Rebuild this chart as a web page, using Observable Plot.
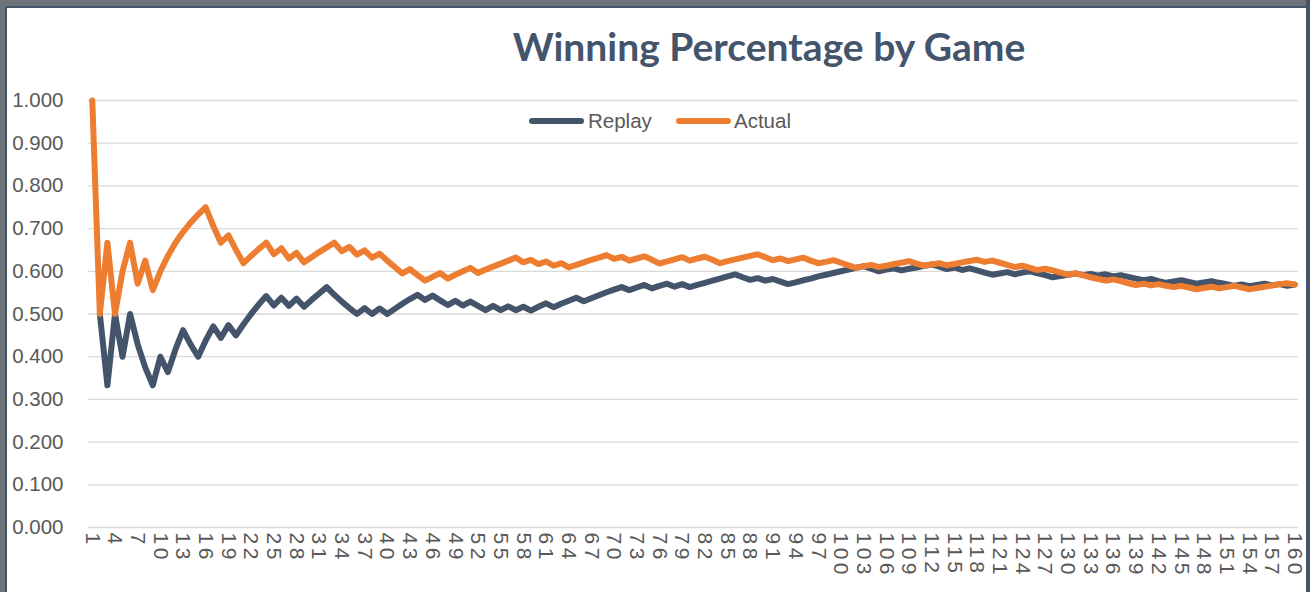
<!DOCTYPE html>
<html>
<head>
<meta charset="utf-8">
<script src="https://cdn.jsdelivr.net/npm/d3@7"></script>
<script src="https://cdn.jsdelivr.net/npm/@observablehq/plot@0.6"></script>
<style>
  html, body { margin: 0; padding: 0; background: #fff; }
  #wrap { position: relative; width: 1310px; height: 592px; overflow: hidden; background: #fff; }
  #wrap svg { position: absolute; left: 0; top: 0; }
  #wrap svg g[aria-label="x-axis tick label"] text { letter-spacing: 3.5px; }
  .bTop { position: absolute; left: 0; top: 0; width: 1310px; height: 6px; background: #6e7379; }
  .bTop2 { position: absolute; left: 0; top: 6px; width: 1310px; height: 2px; background: #44546A; }
  .bLeft { position: absolute; left: 0; top: 0; width: 5px; height: 592px; background: #6e7379; }
  .bLeft2 { position: absolute; left: 5px; top: 6px; width: 2px; height: 586px; background: #44546A; }
  .bRight { position: absolute; left: 1306px; top: 0; width: 4px; height: 592px; background: #44546A; }
  #title { position: absolute; top: 23px; left: 769px; transform: translateX(-50%);
           font-family: Lato, "Open Sans", sans-serif; font-weight: 700; font-size: 39px;
           color: #44546A; white-space: nowrap; }
  .leg { position: absolute; top: 109px; font-family: "Liberation Sans", Arial, sans-serif;
         font-size: 20.5px; color: #595959; white-space: nowrap; }
  .sw { position: absolute; height: 6px; border-radius: 3px; top: 118px; }
</style>
</head>
<body>
<div id="wrap">
  <div id="title">Winning Percentage by Game</div>
</div>
<script>
const seriesNames = ["Replay", "Actual"];
const seriesColors = ["#44546A", "#ED7D31"];

const games = d3.range(1, 161);

const xTickLabels = [1,4,7,10,13,16,19,22,25,28,31,34,37,40,43,46,49,52,55,58,61,64,67,70,73,76,79,82,85,88,91,94,97,100,103,106,109,112,115,118,121,124,127,130,133,136,139,142,145,148,151,154,157,160];

const yTickLabels = [0, 0.1, 0.2, 0.3, 0.4, 0.5, 0.6, 0.7, 0.8, 0.9, 1.0];

const replay = [
  null, .500, .333, .500, .400, .500, .429, .375, .333, .400,
  .364, .417, .462, .429, .400, .438, .471, .444, .474, .450,
  .476, .500, .522, .542, .520, .538, .519, .536, .517, .533,
  .548, .563, .545, .529, .514, .500, .514, .500, .513, .500,
  .512, .524, .535, .545, .533, .543, .532, .521, .531, .520,
  .529, .519, .509, .519, .509, .518, .509, .517, .508, .517,
  .525, .516, .524, .531, .538, .530, .537, .544, .551, .557,
  .563, .556, .562, .568, .560, .566, .571, .564, .570, .563,
  .568, .573, .578, .583, .588, .593, .586, .580, .584, .578,
  .582, .576, .570, .574, .579, .583, .588, .592, .596, .600,
  .604, .608, .612, .606, .600, .604, .607, .602, .606, .609,
  .613, .616, .611, .605, .609, .603, .607, .602, .597, .592,
  .595, .598, .593, .597, .600, .595, .591, .586, .589, .592,
  .595, .591, .594, .590, .593, .588, .591, .587, .583, .579,
  .582, .577, .573, .576, .579, .575, .571, .574, .577, .573,
  .570, .566, .569, .565, .568, .571, .567, .570, .566, .569
];

const actual = [
  1.000, .500, .667, .500, .600, .667, .571, .625, .556, .600,
  .636, .667, .692, .714, .733, .750, .706, .667, .684, .650,
  .619, .636, .652, .667, .640, .654, .630, .643, .621, .633,
  .645, .656, .667, .647, .657, .639, .649, .632, .641, .625,
  .610, .595, .605, .591, .578, .587, .596, .583, .592, .600,
  .608, .596, .604, .611, .618, .625, .632, .621, .627, .617,
  .623, .613, .619, .609, .615, .621, .627, .632, .638, .629,
  .634, .625, .630, .635, .627, .618, .623, .628, .633, .625,
  .630, .634, .627, .619, .624, .628, .632, .636, .640, .633,
  .626, .630, .624, .628, .632, .625, .619, .622, .626, .620,
  .614, .608, .612, .615, .610, .613, .617, .620, .624, .618,
  .613, .616, .619, .614, .617, .621, .624, .627, .622, .625,
  .620, .615, .610, .613, .608, .603, .606, .602, .597, .592,
  .595, .591, .586, .582, .578, .581, .577, .572, .568, .571,
  .567, .570, .566, .563, .566, .562, .558, .561, .564, .560,
  .563, .566, .562, .558, .561, .564, .567, .570, .572, .569
];

const replayData = games.map((g, i) => ({game: g, value: replay[i]}));
const actualData = games.map((g, i) => ({game: g, value: actual[i]}));

const chart = Plot.plot({
  width: 1310,
  height: 592,
  marginTop: 100,
  marginBottom: 65,
  marginLeft: 88,
  marginRight: 12,
  style: {fontFamily: "'Liberation Sans', Arial, sans-serif", fontSize: "20px", color: "#595959", background: "transparent"},
  x: {type: "point", domain: games, padding: 0.5},
  y: {domain: [0, 1]},
  marks: [
    Plot.ruleY(yTickLabels, {stroke: "#d9d9d9", strokeWidth: 1.3}),
    Plot.axisY({ticks: yTickLabels, tickFormat: d3.format(".3f"), tickSize: 0, tickPadding: 25, label: null, fontSize: 20.5}),
    Plot.axisX({ticks: xTickLabels, tickRotate: 90, tickSize: 0, tickPadding: 5, label: null, fontSize: 21}),
    Plot.line(replayData, {x: "game", y: "value", stroke: seriesColors[0], strokeWidth: 6, strokeLinejoin: "round", strokeLinecap: "round"}),
    Plot.line(actualData, {x: "game", y: "value", stroke: seriesColors[1], strokeWidth: 6, strokeLinejoin: "round", strokeLinecap: "round"})
  ]
});

const wrap = document.getElementById("wrap");
wrap.insertBefore(chart, wrap.firstChild);

// frame
["bTop","bTop2","bLeft","bLeft2","bRight"].forEach(c => {
  const d = document.createElement("div"); d.className = c; wrap.appendChild(d);
});

// legend
const legendPos = [{sw: 529, tx: 588}, {sw: 676, tx: 734}];
seriesNames.forEach((name, i) => {
  const s = document.createElement("div");
  s.className = "sw";
  s.style.left = legendPos[i].sw + "px";
  s.style.width = "55px";
  s.style.background = seriesColors[i];
  wrap.appendChild(s);
  const t = document.createElement("div");
  t.className = "leg";
  t.style.left = legendPos[i].tx + "px";
  t.textContent = name;
  wrap.appendChild(t);
});
</script>
</body>
</html>
